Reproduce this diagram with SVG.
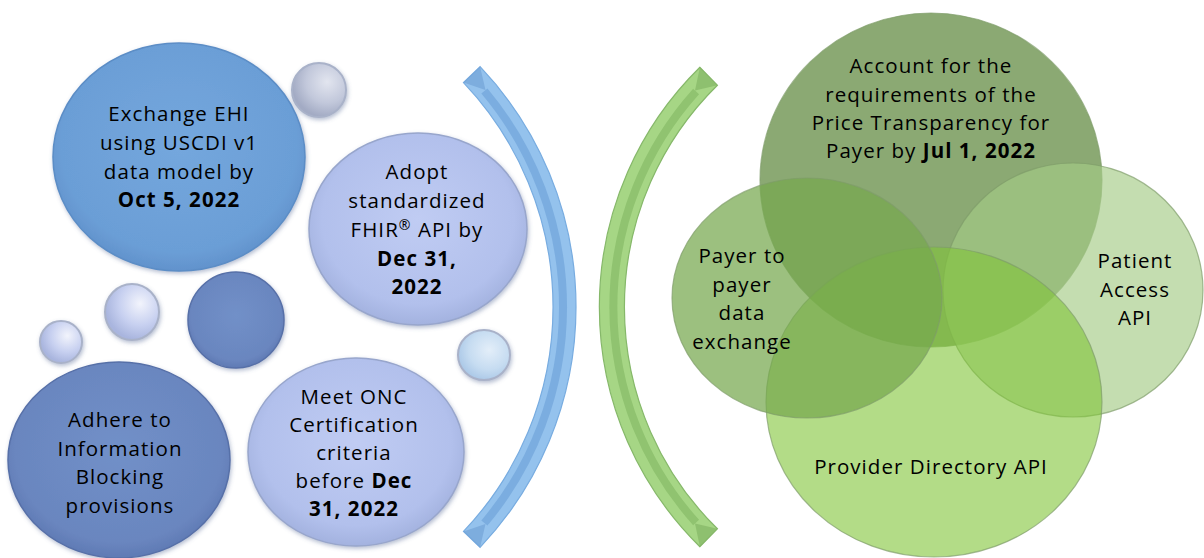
<svg xmlns="http://www.w3.org/2000/svg" width="1204" height="558" viewBox="0 0 1204 558">
<style>
.t{font-family:"Open Sans","Liberation Sans",sans-serif;font-size:20.5px;letter-spacing:1.05px;fill:#000;text-anchor:middle}
.b{font-weight:700}
.rimB{stroke:#5b8dc6;stroke-width:1.5}
.rimL{stroke:#98a6cc;stroke-width:1.5}
.rimD{stroke:#5770a8;stroke-width:1.5}
.rimS{stroke:#a9b2c9;stroke-width:2}
.gr{stroke:#7f9d6a;stroke-width:1.2;stroke-opacity:.7}
</style>
<defs>
<filter id="sh" x="-20%" y="-20%" width="140%" height="140%">
<feDropShadow dx="1" dy="2" stdDeviation="2" flood-color="#5a6e99" flood-opacity="0.45"/>
</filter>
<radialGradient id="gBlue" cx="50%" cy="45%" r="55%">
<stop offset="0" stop-color="#74a7dd"/><stop offset="0.85" stop-color="#6b9ed6"/><stop offset="1" stop-color="#6192cc"/>
</radialGradient>
<radialGradient id="gLav" cx="50%" cy="45%" r="55%">
<stop offset="0" stop-color="#c0ccf3"/><stop offset="0.8" stop-color="#b2c0ec"/><stop offset="1" stop-color="#a3b2df"/>
</radialGradient>
<radialGradient id="gDark" cx="50%" cy="45%" r="55%">
<stop offset="0" stop-color="#7190c8"/><stop offset="0.85" stop-color="#6a86bf"/><stop offset="1" stop-color="#5f7ab4"/>
</radialGradient>
<radialGradient id="gSm" cx="65%" cy="35%" r="65%">
<stop offset="0" stop-color="#f2f4fc"/><stop offset="0.6" stop-color="#c7d0f0"/><stop offset="1" stop-color="#a9b5de"/>
</radialGradient>
<radialGradient id="gGray" cx="65%" cy="35%" r="65%">
<stop offset="0" stop-color="#e2e5ef"/><stop offset="0.6" stop-color="#c2c8db"/><stop offset="1" stop-color="#a3abc4"/>
</radialGradient>
<radialGradient id="gAqua" cx="60%" cy="40%" r="65%">
<stop offset="0" stop-color="#e3eef9"/><stop offset="0.6" stop-color="#c6dcf1"/><stop offset="1" stop-color="#a8c6e6"/>
</radialGradient>
</defs>
<rect width="1204" height="558" fill="#fff"/>

<g id="connectors">
<g id="blue-arc">
<path d="M480.1 66.7 A349 349 0 0 1 480.1 547.3 L463.5 531.4 A326 326 0 0 0 463.5 82.6 Z" fill="#94c2ed" stroke="#78ace0" stroke-width="1.2"/>
<path d="M484.4 91 A336 336 0 0 1 484.4 523" fill="none" stroke="#77a9dd" stroke-width="8" stroke-opacity="0.85"/>
<polygon points="480.1,66.7 463.5,82.6 485.5,90.1" fill="#6e9fd4" fill-opacity="0.6"/>
<polygon points="480.1,547.3 463.5,531.4 485.5,523.9" fill="#6e9fd4" fill-opacity="0.6"/>
</g>
<g id="green-arc">
<path d="M699.9 67.3 A336 336 0 0 0 699.9 546.7 L717.4 528.8 A311 311 0 0 1 717.4 85.2 Z" fill="#a6d685" stroke="#86b86a" stroke-width="1.2"/>
<path d="M696.1 91.5 A322 322 0 0 0 696.1 522.5" fill="none" stroke="#8cbf6c" stroke-width="8" stroke-opacity="0.85"/>
<polygon points="699.9,67.3 717.4,85.2 695,90.5" fill="#7fb060" fill-opacity="0.6"/>
<polygon points="699.9,546.7 717.4,528.8 695,523.5" fill="#7fb060" fill-opacity="0.6"/>
</g>
</g>

<g id="bubble-top" filter="url(#sh)"><ellipse cx="319" cy="90" rx="27" ry="27" fill="url(#gGray)" class="rimS"/></g>
<g id="bubble-right" filter="url(#sh)"><ellipse cx="484" cy="355" rx="26" ry="25" fill="url(#gAqua)" class="rimS"/></g>
<g id="bubble-dark" filter="url(#sh)"><ellipse cx="236" cy="320" rx="48" ry="48" fill="url(#gDark)" class="rimD"/></g>
<g id="bubble-mid" filter="url(#sh)"><ellipse cx="132" cy="312" rx="27" ry="28" fill="url(#gSm)" class="rimS"/></g>
<g id="bubble-small" filter="url(#sh)"><ellipse cx="61" cy="342" rx="21" ry="21" fill="url(#gSm)" class="rimS"/></g>

<g id="node-exchange">
<ellipse cx="179" cy="157" rx="126" ry="114" fill="url(#gBlue)" class="rimB" filter="url(#sh)"/>
<text class="t" x="179" y="121">Exchange EHI</text>
<text class="t" x="179" y="150">using USCDI v1</text>
<text class="t" x="179" y="179">data model by</text>
<text class="t b" x="179" y="207">Oct 5, 2022</text>
</g>

<g id="node-adopt">
<ellipse cx="418" cy="229" rx="109" ry="96" fill="url(#gLav)" class="rimL" filter="url(#sh)"/>
<text class="t" x="417" y="179">Adopt</text>
<text class="t" x="417" y="208">standardized</text>
<text class="t" x="417" y="237">FHIR<tspan font-size="14" dy="-7">®</tspan><tspan dy="7"> API by</tspan></text>
<text class="t b" x="417" y="266">Dec 31,</text>
<text class="t b" x="417" y="294">2022</text>
</g>

<g id="node-adhere">
<ellipse cx="119" cy="460" rx="111" ry="98" fill="url(#gDark)" class="rimD" filter="url(#sh)"/>
<text class="t" x="120" y="427">Adhere to</text>
<text class="t" x="120" y="456">Information</text>
<text class="t" x="120" y="484">Blocking</text>
<text class="t" x="120" y="513">provisions</text>
</g>

<g id="node-meet">
<ellipse cx="356" cy="452" rx="108" ry="94" fill="url(#gLav)" class="rimL" filter="url(#sh)"/>
<text class="t" x="354" y="404">Meet ONC</text>
<text class="t" x="354" y="432">Certification</text>
<text class="t" x="354" y="460">criteria</text>
<text class="t" x="354" y="488">before <tspan class="b">Dec</tspan></text>
<text class="t b" x="354" y="516">31, 2022</text>
</g>

<g id="node-price">
<ellipse cx="931" cy="180" rx="171" ry="167" fill="#6e9350" fill-opacity="0.8" class="gr"/>
<text class="t" x="931" y="73">Account for the</text>
<text class="t" x="931" y="102">requirements of the</text>
<text class="t" x="931" y="130">Price Transparency for</text>
<text class="t" x="931" y="158">Payer by <tspan class="b">Jul 1, 2022</tspan></text>
</g>

<g id="node-patient">
<ellipse cx="1073" cy="290" rx="130" ry="127" fill="#a5cb86" fill-opacity="0.65" class="gr"/>
<text class="t" x="1135" y="268">Patient</text>
<text class="t" x="1135" y="297">Access</text>
<text class="t" x="1135" y="325">API</text>
</g>

<g id="node-provider">
<ellipse cx="934" cy="402" rx="168" ry="155" fill="#80c537" fill-opacity="0.6" class="gr"/>
<text class="t" x="931" y="474">Provider Directory API</text>
</g>

<g id="node-payer">
<ellipse cx="807" cy="298" rx="135" ry="120" fill="#76a84d" fill-opacity="0.72" class="gr"/>
<text class="t" x="742" y="263">Payer to</text>
<text class="t" x="742" y="292">payer</text>
<text class="t" x="742" y="320">data</text>
<text class="t" x="742" y="349">exchange</text>
</g>
</svg>
